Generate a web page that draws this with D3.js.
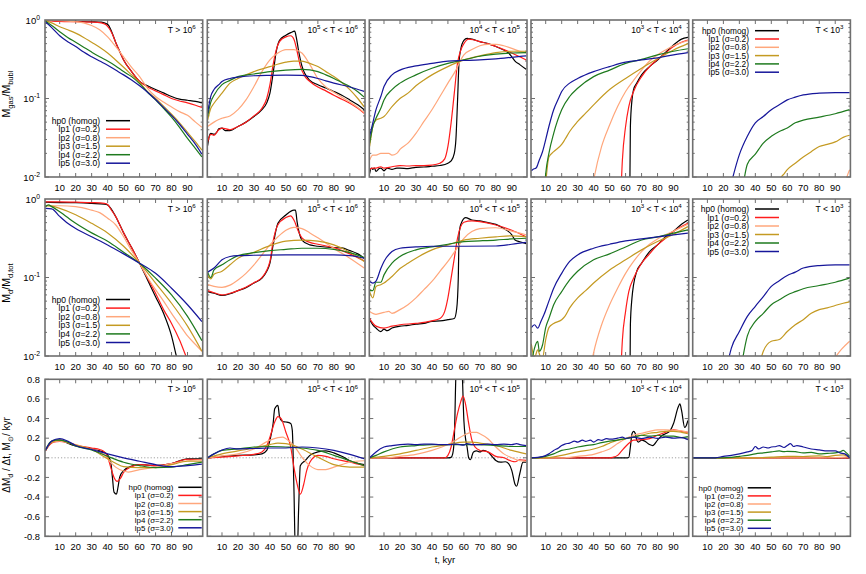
<!DOCTYPE html>
<html><head><meta charset="utf-8">
<script src="https://cdn.jsdelivr.net/npm/d3@7"></script>
<style>
body{margin:0;background:#fff}
text{font-family:"Liberation Sans",Arial,Helvetica,sans-serif;fill:#000}
</style>
</head><body><svg id="c" width="866" height="574"></svg>
<script>
// ---------------- data ----------------
const seriesNames  = ["hp0","lp1","lp2","lp3","lp4","lp5"];
const seriesLabels = ["hp0 (homog)","lp1 (σ=0.2)","lp2 (σ=0.8)","lp3 (σ=1.5)","lp4 (σ=2.2)","lp5 (σ=3.0)"];
const seriesColors = ["#000000","#ff1c1c","#ffa77c","#c49a22","#1e7a1e","#16169a"];
const xTicks = [10,20,30,40,50,60,70,80,90];
const logTicks = [1,0.1,0.01];
const logTickExps = ["0","-1","-2"];
const rateTicks = [-0.8,-0.6,-0.4,-0.2,0,0.2,0.4,0.6,0.8];
const rateTickLabels = ["-0.8","-0.6","-0.4","-0.2","0","0.2","0.4","0.6","0.8"];
const panelTitles = [
  [["T > 10",0],["6",1]],
  [["10",0],["5",1],[" < T < 10",0],["6",1]],
  [["10",0],["4",1],[" < T < 10",0],["5",1]],
  [["10",0],["3",1],[" < T < 10",0],["4",1]],
  [["T < 10",0],["3",1]]
];
const xLabel = "t, kyr";

// Row 1: M_gas / M_bubl
const gas_T6 = {
 hp0:[[1,1.0],[10,0.97],[20,0.96],[30,0.95],[36,0.94],[39,0.9],[40.5,0.86],[42,0.75],[43.5,0.63],[45,0.52],[47,0.42],[50,0.31],[55,0.22],[60,0.165],[65,0.145],[70,0.13],[75,0.118],[80,0.106],[85,0.098],[90,0.095],[95,0.092],[99,0.088]],
 lp1:[[1,0.99],[10,0.96],[20,0.95],[30,0.94],[36,0.92],[39,0.87],[41,0.78],[43,0.66],[45,0.52],[47,0.42],[50,0.31],[55,0.22],[60,0.165],[65,0.14],[70,0.125],[75,0.112],[80,0.1],[85,0.093],[90,0.088],[95,0.082],[99,0.077]],
 lp2:[[1,1.0],[10,0.98],[20,0.95],[25,0.92],[30,0.85],[35,0.75],[40,0.61],[45,0.46],[50,0.34],[55,0.25],[60,0.19],[65,0.135],[70,0.106],[75,0.09],[80,0.078],[85,0.068],[90,0.061],[95,0.05],[99,0.043]],
 lp3:[[1,0.98],[5,0.92],[10,0.82],[15,0.75],[20,0.68],[25,0.6],[30,0.52],[35,0.45],[40,0.38],[45,0.31],[50,0.25],[55,0.2],[60,0.16],[65,0.122],[70,0.1],[75,0.08],[80,0.063],[85,0.049],[90,0.037],[95,0.028],[99,0.022]],
 lp4:[[1,0.97],[5,0.85],[10,0.71],[15,0.6],[20,0.52],[25,0.45],[30,0.39],[35,0.34],[40,0.3],[45,0.26],[50,0.22],[55,0.19],[60,0.155],[65,0.12],[70,0.096],[75,0.075],[80,0.058],[85,0.043],[90,0.031],[95,0.023],[99,0.018]],
 lp5:[[1,0.95],[5,0.8],[10,0.63],[15,0.53],[20,0.46],[25,0.39],[30,0.34],[35,0.3],[40,0.265],[45,0.23],[50,0.2],[55,0.172],[60,0.145],[65,0.12],[70,0.097],[75,0.077],[80,0.061],[85,0.047],[90,0.035],[95,0.026],[99,0.0195]]
};
const gas_T5_6 = {
 hp0:[[1,0.025],[2,0.033],[3,0.036],[5,0.035],[7,0.038],[8,0.041],[10,0.042],[12,0.039],[15,0.039],[20,0.044],[25,0.05],[30,0.059],[35,0.072],[38,0.088],[40,0.117],[42,0.21],[44,0.4],[46,0.55],[50,0.64],[53,0.69],[55.5,0.72],[56.5,0.6],[58,0.4],[60,0.26],[65,0.17],[70,0.15],[75,0.136],[80,0.123],[85,0.11],[90,0.096],[95,0.083],[99,0.072]],
 lp1:[[1,0.028],[3,0.035],[5,0.034],[8,0.04],[10,0.042],[15,0.04],[20,0.044],[25,0.05],[30,0.06],[35,0.075],[38,0.1],[40,0.15],[42,0.27],[44,0.42],[46,0.53],[50,0.61],[53,0.63],[55,0.57],[57,0.4],[59,0.26],[62,0.19],[65,0.165],[70,0.14],[75,0.125],[80,0.11],[85,0.098],[90,0.087],[95,0.075],[99,0.065]],
 lp2:[[1,0.044],[5,0.05],[8,0.054],[10,0.056],[15,0.06],[20,0.072],[25,0.096],[30,0.142],[35,0.22],[40,0.31],[45,0.38],[50,0.42],[55,0.42],[60,0.38],[65,0.27],[70,0.18],[75,0.14],[80,0.12],[85,0.104],[90,0.09],[95,0.077],[99,0.066]],
 lp3:[[1,0.053],[3,0.075],[5,0.087],[10,0.117],[15,0.157],[20,0.18],[25,0.2],[30,0.22],[40,0.255],[50,0.29],[55,0.3],[60,0.3],[65,0.28],[70,0.255],[75,0.22],[80,0.19],[85,0.16],[90,0.13],[95,0.1],[99,0.078]],
 lp4:[[1,0.059],[3,0.09],[5,0.11],[10,0.15],[15,0.17],[20,0.19],[30,0.205],[40,0.22],[50,0.23],[60,0.235],[65,0.232],[70,0.22],[75,0.2],[80,0.18],[85,0.16],[90,0.142],[95,0.122],[99,0.104]],
 lp5:[[1,0.065],[3,0.107],[5,0.13],[8,0.15],[10,0.165],[15,0.18],[20,0.187],[30,0.195],[40,0.197],[50,0.198],[60,0.197],[65,0.19],[70,0.18],[75,0.168],[80,0.157],[90,0.14],[99,0.123]]
};
const gas_T4_5 = {
 hp0:[[1,0.011],[2,0.013],[3,0.0125],[4,0.013],[5,0.0118],[7,0.0128],[8,0.013],[10,0.012],[12,0.013],[15,0.0125],[18,0.013],[20,0.013],[25,0.0128],[30,0.0133],[35,0.0134],[40,0.0137],[45,0.014],[50,0.015],[52,0.016],[54,0.02],[55,0.03],[56,0.09],[57,0.3],[58,0.42],[60,0.55],[62,0.585],[65,0.57],[70,0.53],[75,0.5],[80,0.46],[85,0.415],[88,0.38],[90,0.34],[92,0.3],[95,0.27],[99,0.236]],
 lp1:[[1,0.0125],[3,0.013],[5,0.013],[8,0.0135],[10,0.013],[15,0.0135],[20,0.014],[25,0.0138],[30,0.014],[35,0.014],[40,0.0142],[45,0.015],[48,0.017],[50,0.0245],[52,0.049],[54,0.117],[56,0.28],[58,0.41],[60,0.5],[63,0.57],[66,0.56],[70,0.53],[75,0.5],[80,0.46],[85,0.42],[90,0.38],[95,0.34],[99,0.31]],
 lp2:[[1,0.0165],[3,0.019],[5,0.019],[8,0.02],[10,0.02],[13,0.02],[15,0.019],[18,0.02],[20,0.0225],[25,0.027],[30,0.036],[35,0.051],[40,0.072],[45,0.106],[50,0.157],[55,0.23],[58,0.31],[60,0.36],[65,0.42],[70,0.47],[75,0.49],[80,0.49],[85,0.47],[90,0.435],[95,0.4],[99,0.38]],
 lp3:[[1,0.0245],[3,0.044],[5,0.053],[8,0.056],[10,0.059],[15,0.079],[20,0.1],[25,0.117],[30,0.145],[35,0.172],[40,0.2],[50,0.255],[60,0.31],[70,0.35],[80,0.385],[90,0.4],[99,0.4]],
 lp4:[[1,0.027],[3,0.044],[5,0.056],[8,0.075],[10,0.096],[15,0.13],[20,0.157],[30,0.2],[40,0.243],[50,0.28],[60,0.31],[70,0.345],[80,0.367],[90,0.38],[99,0.385]],
 lp5:[[1,0.033],[3,0.049],[5,0.072],[8,0.106],[10,0.142],[15,0.2],[20,0.23],[30,0.26],[40,0.28],[50,0.3],[60,0.305],[70,0.31],[80,0.32],[90,0.335],[99,0.35]]
};
const gas_T3_4 = {
 hp0:[[62.5,0.003],[63,0.044],[64,0.096],[65,0.13],[67,0.157],[70,0.2],[75,0.255],[80,0.31],[85,0.385],[90,0.48],[95,0.57],[99,0.6]],
 lp1:[[56.5,0.003],[58,0.0165],[60,0.044],[62,0.079],[65,0.123],[70,0.19],[75,0.255],[80,0.315],[85,0.38],[90,0.46],[95,0.52],[99,0.557]],
 lp2:[[38,0.005],[40,0.009],[45,0.0245],[50,0.046],[55,0.079],[60,0.123],[65,0.17],[70,0.23],[75,0.3],[80,0.36],[85,0.415],[90,0.47],[99,0.545]],
 lp3:[[9.5,0.006],[12,0.018],[15,0.021],[20,0.026],[22,0.03],[25,0.038],[30,0.051],[35,0.065],[40,0.083],[50,0.13],[60,0.18],[70,0.243],[80,0.32],[90,0.415],[99,0.5]],
 lp4:[[9,0.006],[10,0.011],[12,0.02],[15,0.036],[20,0.072],[25,0.106],[30,0.135],[40,0.19],[50,0.23],[60,0.28],[70,0.315],[80,0.36],[90,0.4],[99,0.43]],
 lp5:[[1,0.012],[2,0.0125],[4,0.013],[6,0.0165],[8,0.021],[10,0.03],[12,0.044],[15,0.072],[18,0.1],[20,0.123],[25,0.157],[30,0.18],[40,0.22],[50,0.255],[60,0.29],[70,0.31],[80,0.33],[90,0.36],[99,0.385]]
};
const gas_T3 = {
 hp0:[], lp1:[],
 lp2:[[95,0.006],[97,0.0095],[99,0.0124]],
 lp3:[[53,0.007],[56,0.0098],[58,0.011],[60,0.0124],[65,0.015],[70,0.018],[75,0.021],[80,0.0245],[85,0.026],[90,0.028],[95,0.032],[99,0.034]],
 lp4:[[32,0.007],[35,0.0145],[40,0.0195],[45,0.027],[50,0.033],[55,0.038],[60,0.042],[65,0.049],[70,0.053],[80,0.058],[90,0.064],[99,0.072]],
 lp5:[[24,0.007],[30,0.0193],[35,0.033],[40,0.049],[45,0.059],[50,0.072],[55,0.083],[60,0.096],[65,0.104],[70,0.111],[80,0.117],[90,0.119],[99,0.119]]
};

// Row 2: M_d / M_d,tot
const dust_T6 = {
 hp0:[[1,0.91],[10,0.9],[20,0.9],[30,0.88],[38,0.86],[40,0.84],[42,0.76],[45,0.6],[50,0.37],[55,0.24],[60,0.152],[65,0.093],[70,0.057],[75,0.035],[80,0.018],[83,0.01],[85,0.007]],
 lp1:[[1,0.92],[10,0.92],[20,0.91],[30,0.9],[38,0.88],[40,0.85],[42,0.74],[45,0.6],[50,0.37],[55,0.24],[60,0.152],[65,0.098],[70,0.063],[75,0.039],[80,0.026],[85,0.016],[89,0.01],[91,0.008]],
 lp2:[[1,0.82],[10,0.82],[20,0.8],[30,0.72],[35,0.67],[40,0.57],[45,0.47],[50,0.33],[55,0.22],[60,0.152],[65,0.1],[70,0.07],[75,0.05],[80,0.035],[85,0.025],[90,0.018],[95,0.014],[99,0.0115]],
 lp3:[[1,0.82],[5,0.81],[10,0.76],[20,0.63],[30,0.49],[40,0.37],[50,0.25],[60,0.152],[70,0.085],[80,0.047],[90,0.024],[99,0.0115]],
 lp4:[[1,0.8],[3,0.84],[5,0.8],[10,0.69],[20,0.49],[30,0.37],[40,0.29],[50,0.21],[60,0.152],[70,0.098],[80,0.06],[90,0.032],[99,0.0157]],
 lp5:[[1,0.76],[5,0.75],[10,0.6],[15,0.49],[20,0.42],[30,0.33],[40,0.26],[50,0.2],[60,0.152],[70,0.113],[80,0.073],[90,0.045],[99,0.0275]]
};
const dust_T5_6 = {
 hp0:[[1,0.066],[5,0.063],[10,0.059],[15,0.062],[20,0.068],[25,0.074],[30,0.085],[35,0.098],[38,0.12],[40,0.152],[42,0.26],[45,0.49],[50,0.625],[55,0.72],[56,0.72],[57,0.51],[60,0.3],[65,0.26],[70,0.25],[80,0.24],[85,0.238],[90,0.22],[95,0.2],[99,0.176]],
 lp1:[[1,0.068],[5,0.064],[10,0.06],[15,0.063],[20,0.068],[30,0.086],[35,0.1],[40,0.16],[42,0.29],[45,0.47],[50,0.58],[53,0.61],[55,0.54],[58,0.38],[60,0.32],[65,0.28],[70,0.265],[80,0.24],[90,0.2],[99,0.163]],
 lp2:[[1,0.081],[5,0.077],[10,0.075],[15,0.08],[20,0.093],[25,0.113],[30,0.145],[35,0.194],[40,0.26],[45,0.33],[50,0.4],[55,0.435],[60,0.42],[65,0.37],[70,0.32],[80,0.235],[90,0.176],[99,0.132]],
 lp3:[[1,0.108],[3,0.096],[5,0.11],[10,0.12],[15,0.145],[20,0.176],[30,0.21],[40,0.255],[50,0.29],[60,0.3],[70,0.29],[80,0.26],[90,0.21],[99,0.16]],
 lp4:[[1,0.117],[3,0.1],[5,0.125],[10,0.145],[15,0.168],[20,0.19],[30,0.207],[40,0.22],[50,0.228],[60,0.236],[70,0.236],[80,0.228],[90,0.207],[99,0.18]],
 lp5:[[1,0.117],[5,0.132],[10,0.168],[15,0.185],[20,0.19],[30,0.192],[50,0.194],[70,0.194],[80,0.194],[90,0.19],[99,0.176]]
};
const dust_T4_5 = {
 hp0:[[1,0.029],[3,0.025],[5,0.0227],[8,0.0205],[10,0.022],[12,0.021],[15,0.0227],[20,0.024],[25,0.0245],[30,0.0255],[35,0.026],[40,0.0276],[45,0.028],[50,0.029],[54,0.03],[55.5,0.04],[56.5,0.1],[57,0.35],[58,0.47],[61,0.58],[65,0.54],[70,0.525],[75,0.5],[80,0.475],[85,0.42],[90,0.35],[92,0.3],[95,0.285],[99,0.27]],
 lp1:[[1,0.03],[5,0.024],[10,0.0227],[15,0.024],[20,0.025],[30,0.026],[40,0.028],[45,0.03],[48,0.037],[50,0.055],[52,0.098],[54,0.176],[56,0.316],[58,0.445],[60,0.505],[65,0.525],[70,0.515],[80,0.467],[90,0.4],[99,0.33]],
 lp2:[[1,0.037],[5,0.034],[10,0.036],[13,0.037],[15,0.035],[20,0.039],[25,0.045],[30,0.055],[35,0.07],[40,0.089],[45,0.12],[50,0.16],[55,0.225],[60,0.316],[65,0.385],[70,0.42],[80,0.43],[90,0.39],[99,0.35]],
 lp3:[[1,0.066],[3,0.055],[5,0.077],[8,0.081],[10,0.085],[15,0.103],[20,0.13],[25,0.152],[30,0.176],[40,0.225],[50,0.26],[60,0.3],[70,0.316],[80,0.33],[90,0.34],[99,0.33]],
 lp4:[[1,0.068],[3,0.068],[5,0.087],[8,0.087],[10,0.108],[15,0.152],[20,0.185],[30,0.225],[40,0.245],[50,0.265],[60,0.287],[70,0.293],[80,0.3],[90,0.31],[99,0.316]],
 lp5:[[1,0.089],[3,0.085],[5,0.09],[8,0.13],[10,0.16],[15,0.214],[20,0.236],[30,0.245],[40,0.25],[60,0.25],[80,0.252],[90,0.265],[99,0.28]]
};
const dust_T3_4 = {
 hp0:[[62.7,0.004],[63,0.025],[64,0.055],[65,0.081],[67,0.12],[70,0.152],[75,0.214],[80,0.26],[85,0.33],[90,0.39],[95,0.476],[99,0.54]],
 lp1:[[56.8,0.005],[58,0.016],[60,0.037],[62,0.066],[65,0.098],[70,0.152],[75,0.2],[80,0.26],[85,0.316],[90,0.385],[99,0.49]],
 lp2:[[37.5,0.006],[40,0.011],[45,0.025],[50,0.045],[55,0.073],[60,0.113],[65,0.16],[70,0.214],[75,0.265],[80,0.31],[85,0.35],[90,0.39],[99,0.476]],
 lp3:[[1,0.0143],[3,0.0095],[5,0.012],[7,0.0095],[8,0.0095],[10,0.0162],[12,0.023],[15,0.026],[20,0.029],[22,0.032],[25,0.041],[30,0.055],[35,0.068],[40,0.085],[50,0.125],[60,0.168],[70,0.225],[80,0.287],[90,0.355],[99,0.445]],
 lp4:[[1,0.008],[3,0.0126],[5,0.0154],[6,0.0115],[8,0.0138],[10,0.023],[12,0.03],[15,0.045],[20,0.066],[25,0.093],[30,0.12],[40,0.168],[50,0.2],[60,0.245],[70,0.3],[80,0.33],[90,0.367],[99,0.405]],
 lp5:[[1,0.023],[3,0.025],[5,0.0226],[7,0.0276],[9,0.034],[12,0.05],[15,0.073],[20,0.113],[25,0.16],[30,0.194],[40,0.236],[50,0.265],[60,0.293],[70,0.31],[80,0.33],[90,0.35],[99,0.367]]
};
const dust_T3 = {
 hp0:[], lp1:[],
 lp2:[[89,0.009],[94,0.0122],[99,0.0154]],
 lp3:[[42,0.007],[45,0.0115],[50,0.0154],[55,0.0162],[60,0.0205],[65,0.025],[70,0.029],[75,0.035],[80,0.039],[85,0.041],[90,0.044],[95,0.047],[99,0.049]],
 lp4:[[31,0.007],[35,0.018],[40,0.0276],[45,0.035],[50,0.045],[55,0.052],[60,0.06],[65,0.066],[70,0.072],[80,0.079],[90,0.087],[99,0.098]],
 lp5:[[22,0.007],[25,0.0126],[30,0.0205],[35,0.032],[40,0.043],[45,0.057],[50,0.077],[55,0.091],[60,0.106],[65,0.117],[70,0.132],[80,0.142],[90,0.145],[99,0.145]]
};

// Row 3: dM_d/dt, Msun/kyr
const rate_T6 = {
 hp0:[[1,0.07],[3,0.125],[5,0.16],[8,0.18],[10,0.18],[13,0.165],[15,0.15],[20,0.12],[25,0.105],[30,0.09],[35,0.07],[38,0.055],[40,0.03],[42,-0.05],[43,-0.2],[44,-0.35],[45.5,-0.37],[46.5,-0.3],[47.5,-0.2],[50,-0.13],[55,-0.085],[60,-0.07],[65,-0.075],[70,-0.08],[80,-0.06],[90,-0.01],[99,-0.01]],
 lp1:[[1,0.07],[3,0.12],[5,0.15],[8,0.165],[10,0.168],[15,0.155],[20,0.13],[30,0.1],[35,0.085],[38,0.06],[40,0.01],[42,-0.1],[44,-0.2],[46,-0.24],[48,-0.21],[50,-0.15],[55,-0.09],[60,-0.07],[65,-0.075],[70,-0.08],[80,-0.06],[90,-0.015],[99,-0.02]],
 lp2:[[1,0.075],[5,0.16],[10,0.17],[15,0.155],[20,0.135],[30,0.085],[35,0.06],[38,0.03],[42,-0.05],[45,-0.095],[50,-0.135],[53,-0.145],[60,-0.12],[70,-0.095],[80,-0.06],[90,-0.03],[99,-0.02]],
 lp3:[[1,0.075],[5,0.16],[10,0.18],[15,0.16],[20,0.13],[30,0.085],[40,-0.01],[45,-0.055],[50,-0.09],[60,-0.1],[70,-0.1],[80,-0.07],[90,-0.035],[99,-0.035]],
 lp4:[[1,0.075],[4,0.16],[7,0.18],[10,0.18],[15,0.16],[20,0.12],[30,0.08],[40,0.015],[50,-0.045],[60,-0.08],[70,-0.1],[80,-0.095],[90,-0.07],[99,-0.045]],
 lp5:[[1,0.075],[5,0.17],[10,0.195],[15,0.17],[20,0.125],[30,0.085],[40,0.04],[50,0.0],[60,-0.035],[70,-0.07],[80,-0.09],[90,-0.08],[99,-0.065]]
};
const rate_T5_6 = {
 hp0:[[1,0],[10,0.015],[20,0.025],[30,0.03],[35,0.04],[38,0.075],[40,0.18],[42,0.35],[43,0.5],[45,0.535],[46,0.42],[48,0.37],[50,0.365],[53,0.35],[54,0.28],[55,-0.3],[56,-1.0],[57,-1.0],[58,-0.5],[59,-0.08],[62,-0.03],[65,0.025],[70,0.06],[75,0.07],[80,0.05],[85,0.015],[90,-0.03],[99,-0.07]],
 lp1:[[1,0],[20,0.02],[30,0.035],[35,0.06],[38,0.12],[40,0.21],[43,0.365],[45,0.42],[47,0.4],[50,0.26],[53,0.11],[55,-0.095],[57,-0.265],[59,-0.37],[61,-0.28],[63,-0.13],[65,-0.045],[70,0.025],[75,0.015],[80,-0.01],[90,-0.045],[99,-0.08]],
 lp2:[[1,0],[10,0.02],[20,0.04],[30,0.09],[40,0.18],[45,0.205],[48,0.21],[50,0.195],[55,0.125],[60,0.007],[65,-0.08],[70,-0.12],[75,-0.12],[80,-0.095],[85,-0.07],[90,-0.045],[99,-0.03]],
 lp3:[[1,0],[10,0.04],[20,0.07],[30,0.1],[40,0.135],[45,0.15],[50,0.145],[55,0.125],[60,0.09],[70,0.007],[80,-0.07],[90,-0.095],[99,-0.095]],
 lp4:[[1,0],[5,0.04],[10,0.075],[20,0.09],[30,0.11],[40,0.115],[50,0.11],[60,0.1],[70,0.075],[80,0.025],[90,-0.03],[99,-0.08]],
 lp5:[[1,0],[5,0.04],[10,0.08],[15,0.1],[20,0.09],[30,0.095],[40,0.1],[50,0.1],[60,0.11],[70,0.1],[80,0.075],[90,0.035],[99,-0.01]]
};
const rate_T4_5 = {
 hp0:[[1,0],[50,0],[52,0.005],[53,0.04],[54,0.2],[55,0.85],[56,1.1],[58,1.1],[59,0.85],[60,0.38],[61,0.2],[62,0.11],[63,0],[64,-0.02],[66,0.06],[68,0.07],[70,0.06],[72,0.075],[75,0.06],[78,0.007],[80,-0.027],[83,-0.045],[86,-0.04],[88,-0.06],[90,-0.13],[92,-0.27],[93,-0.29],[95,-0.16],[97,-0.045],[99,-0.045]],
 lp1:[[1,0],[48,0],[50,0.025],[52,0.11],[54,0.28],[56,0.45],[58,0.57],[59.5,0.63],[61,0.55],[63,0.35],[65,0.18],[67,0.11],[70,0.075],[75,0.06],[80,0.015],[85,0],[90,-0.035],[92,-0.04],[95,-0.02],[99,-0.027]],
 lp2:[[1,0],[10,0],[20,0.015],[30,0.035],[40,0.075],[50,0.135],[55,0.18],[60,0.23],[65,0.26],[68,0.26],[70,0.245],[75,0.195],[80,0.11],[85,0.04],[90,0],[95,-0.03],[99,-0.035]],
 lp3:[[1,0],[10,0.015],[20,0.04],[30,0.075],[40,0.11],[50,0.135],[60,0.16],[65,0.16],[70,0.15],[80,0.125],[90,0.075],[99,0.04]],
 lp4:[[1,0],[5,0.025],[10,0.06],[20,0.11],[30,0.125],[40,0.135],[50,0.135],[60,0.135],[70,0.135],[80,0.125],[90,0.115],[99,0.115]],
 lp5:[[1,0],[5,0.06],[10,0.11],[15,0.125],[20,0.135],[25,0.14],[30,0.135],[35,0.14],[40,0.14],[45,0.135],[50,0.135],[55,0.14],[60,0.13],[62,0.145],[65,0.135],[70,0.135],[75,0.14],[80,0.135],[85,0.14],[90,0.135],[93,0.145],[95,0.135],[99,0.125]]
};
const rate_T3_4 = {
 hp0:[[1,0],[61,0],[62,0.003],[63,0.11],[64,0.245],[65,0.27],[66,0.25],[67,0.18],[68,0.16],[70,0.18],[72,0.17],[75,0.135],[77,0.125],[80,0.18],[83,0.23],[85,0.245],[88,0.28],[90,0.35],[93,0.52],[94,0.55],[95,0.485],[97,0.31],[98,0.33],[99,0.38]],
 lp1:[[1,0],[50,0],[52,0.005],[55,0.025],[57,0.06],[60,0.115],[63,0.16],[65,0.18],[70,0.185],[75,0.195],[80,0.23],[85,0.26],[90,0.285],[95,0.27],[99,0.26]],
 lp2:[[1,0],[20,0],[30,0.015],[40,0.035],[45,0.06],[50,0.09],[55,0.145],[60,0.195],[65,0.23],[70,0.25],[75,0.27],[80,0.285],[85,0.285],[90,0.28],[95,0.275],[99,0.26]],
 lp3:[[1,0],[10,0],[20,0.025],[30,0.06],[40,0.09],[45,0.115],[50,0.15],[55,0.18],[60,0.195],[65,0.21],[70,0.23],[75,0.25],[80,0.26],[85,0.27],[90,0.27],[95,0.26],[99,0.245]],
 lp4:[[1,0],[5,0],[10,0.015],[15,0.04],[20,0.075],[25,0.09],[30,0.11],[35,0.125],[40,0.135],[45,0.155],[50,0.17],[55,0.18],[60,0.195],[65,0.21],[70,0.23],[75,0.22],[80,0.23],[85,0.22],[90,0.22],[95,0.205],[99,0.215]],
 lp5:[[1,0],[8,0.012],[12,0.04],[15,0.075],[18,0.1],[20,0.125],[22,0.14],[25,0.15],[28,0.17],[30,0.16],[33,0.18],[35,0.168],[38,0.18],[40,0.16],[43,0.185],[45,0.178],[48,0.195],[50,0.19],[55,0.2],[58,0.21],[60,0.198],[65,0.21],[70,0.195],[75,0.21],[80,0.198],[85,0.21],[90,0.2],[95,0.205],[99,0.185]]
};
const rate_T3 = {
 hp0:[[1,0],[99,0]],
 lp1:[[1,0],[99,0]],
 lp2:[[1,0],[80,0],[90,0.003],[99,0.01]],
 lp3:[[1,0],[40,0],[50,0.007],[60,0.015],[70,0.013],[80,0.02],[85,0.012],[90,0.025],[95,0.03],[99,0]],
 lp4:[[1,0],[20,0],[25,0.005],[30,0.015],[35,0.025],[40,0.04],[45,0.05],[50,0.06],[55,0.07],[58,0.062],[60,0.066],[65,0.062],[70,0.05],[75,0.055],[80,0.04],[85,0.045],[90,0.05],[93,0.06],[95,0.075],[97,0.05],[99,0.015]],
 lp5:[[1,0],[15,0],[20,0.015],[25,0.025],[30,0.04],[35,0.06],[38,0.075],[40,0.115],[42,0.09],[45,0.11],[48,0.1],[50,0.11],[53,0.115],[55,0.125],[58,0.105],[60,0.125],[62,0.145],[64,0.115],[66,0.125],[70,0.11],[75,0.09],[80,0.08],[85,0.07],[90,0.07],[93,0.05],[96,0.04],[99,0]]
};

// ---------------- layout ----------------
const svg = d3.select("#c");
const colLeft = [45, 207.3, 369.3, 531, 692.7], PW = 157.7;
const rowTop = [20, 199, 379.3], PH = 157;
const xDomain = [0.8, 99.5];
const BORDER = "#6f6f6f";

const rows = [
  {kind:"log", panels:[gas_T6, gas_T5_6, gas_T4_5, gas_T3_4, gas_T3]},
  {kind:"log", panels:[dust_T6, dust_T5_6, dust_T4_5, dust_T3_4, dust_T3]},
  {kind:"lin", panels:[rate_T6, rate_T5_6, rate_T4_5, rate_T3_4, rate_T3]}
];
// legend placements: [textRight, lineX1, lineX2, firstY, spacing, fontSize]
const legends = [
  [100,106,130,120.7,8.5,8.5],
  [749,755,779,30.7,8.3,8.3],
  [100,106,130,299.5,8.6,8.5],
  [749,755,779,209,8.5,8.5],
  [173.3,178.3,201.7,487.3,8.1,7.9],
  [743.3,747.7,771,487.8,8.1,7.9]
];

function richText(sel, parts, size) {
  parts.forEach(([t, sup], i) => {
    const ts = sel.append("tspan").text(t);
    if (sup) ts.attr("font-size", size*0.72).attr("dy", -size*0.42);
    else if (i > 0 && parts[i-1][1]) ts.attr("dy", size*0.42);
  });
}

rows.forEach((row, ri) => {
  const top = rowTop[ri], bot = top + PH;
  const y = row.kind === "log"
    ? d3.scaleLog().domain([0.01, 1]).range([bot, top])
    : d3.scaleLinear().domain([-0.8, 0.8]).range([bot, top]);
  row.panels.forEach((pdata, ci) => {
    const L = colLeft[ci], R = L + PW;
    const x = d3.scaleLinear().domain(xDomain).range([L, R]);
    const g = svg.append("g");
    const cid = `clip${ri}_${ci}`;
    svg.append("clipPath").attr("id", cid).append("rect")
      .attr("x", L).attr("y", top).attr("width", PW).attr("height", PH);

    if (row.kind === "lin") {
      g.append("line").attr("x1", L).attr("x2", R).attr("y1", y(0)).attr("y2", y(0))
        .attr("stroke", "#8a8a8a").attr("stroke-width", 0.8).attr("stroke-dasharray", "1.2,2");
    }
    const tk = g.append("g").attr("stroke", BORDER).attr("stroke-width", 1);
    xTicks.forEach(v => {
      tk.append("line").attr("x1", x(v)).attr("x2", x(v)).attr("y1", bot).attr("y2", bot-4);
      tk.append("line").attr("x1", x(v)).attr("x2", x(v)).attr("y1", top).attr("y2", top+4);
    });
    if (row.kind === "log") {
      [0.01, 0.1].forEach(d => {
        for (let k = 1; k <= 9; k++) {
          const v = d*k; const len = k === 1 ? 4 : 2;
          tk.append("line").attr("x1", L).attr("x2", L+len).attr("y1", y(v)).attr("y2", y(v));
          tk.append("line").attr("x1", R).attr("x2", R-len).attr("y1", y(v)).attr("y2", y(v));
        }
      });
    } else {
      rateTicks.forEach(v => {
        tk.append("line").attr("x1", L).attr("x2", L+4).attr("y1", y(v)).attr("y2", y(v));
        tk.append("line").attr("x1", R).attr("x2", R-4).attr("y1", y(v)).attr("y2", y(v));
      });
    }
    xTicks.forEach(v => {
      g.append("text").attr("x", x(v)).attr("y", bot + 14).attr("text-anchor", "middle")
        .attr("font-size", 9.3).text(v);
    });
    if (ci === 0) {
      if (row.kind === "log") {
        logTicks.forEach((v, i) => {
          const t = g.append("text").attr("x", 40).attr("y", y(v) + 3.5)
            .attr("text-anchor", "end").attr("font-size", 9.5);
          richText(t, [["10",0],[logTickExps[i],1]], 9.5);
        });
      } else {
        rateTicks.forEach((v, i) => {
          g.append("text").attr("x", 40).attr("y", y(v) + 3.3)
            .attr("text-anchor", "end").attr("font-size", 9.3).text(rateTickLabels[i]);
        });
      }
    }
    const line = d3.line().x(d => x(d[0])).y(d => y(d[1])).curve(d3.curveMonotoneX);
    const lg = g.append("g").attr("clip-path", `url(#${cid})`);
    seriesNames.forEach((s, si) => {
      const pts = pdata[s];
      if (!pts || pts.length < 2) return;
      lg.append("path").attr("d", line(pts)).attr("fill", "none")
        .attr("stroke", seriesColors[si]).attr("stroke-width", 1.2)
        .attr("stroke-linejoin", "round");
    });
    g.append("rect").attr("x", L).attr("y", top).attr("width", PW).attr("height", PH)
      .attr("fill", "none").attr("stroke", BORDER).attr("stroke-width", 1.6);
    const tt = g.append("text").attr("x", R - 7).attr("y", top + 13)
      .attr("text-anchor", "end").attr("font-size", 8.6);
    richText(tt, panelTitles[ci], 8.6);
  });
});

legends.forEach(([tr, x1, x2, y0, sp, fs]) => {
  const g = svg.append("g");
  seriesLabels.forEach((lab, i) => {
    const yy = y0 + i*sp;
    g.append("text").attr("x", tr).attr("y", yy + 3).attr("text-anchor", "end")
      .attr("font-size", fs).text(lab);
    g.append("line").attr("x1", x1).attr("x2", x2).attr("y1", yy).attr("y2", yy)
      .attr("stroke", seriesColors[i]).attr("stroke-width", 1.5);
  });
});

function yTitle(cy, parts, size) {
  const t = svg.append("text").attr("transform", `translate(10,${cy}) rotate(-90)`)
    .attr("text-anchor", "middle").attr("font-size", size);
  parts.forEach(([s, sub], i) => {
    const ts = t.append("tspan").text(s);
    if (sub) ts.attr("font-size", size*0.72).attr("dy", size*0.3);
    else if (i > 0 && parts[i-1][1]) ts.attr("dy", -size*0.3);
  });
}
yTitle(94, [["M",0],["gas",1],["/M",0],["bubl",1]], 10.5);
yTitle(283, [["M",0],["d",1],["/M",0],["d,tot",1]], 10.5);
yTitle(455, [["ΔM",0],["d",1],[" / Δt,  M",0],["⊙",1],["/ kyr",0]], 10);

svg.append("text").attr("x", 445).attr("y", 563).attr("text-anchor", "middle")
  .attr("font-size", 9.5).text(xLabel);
</script>
</body></html>
